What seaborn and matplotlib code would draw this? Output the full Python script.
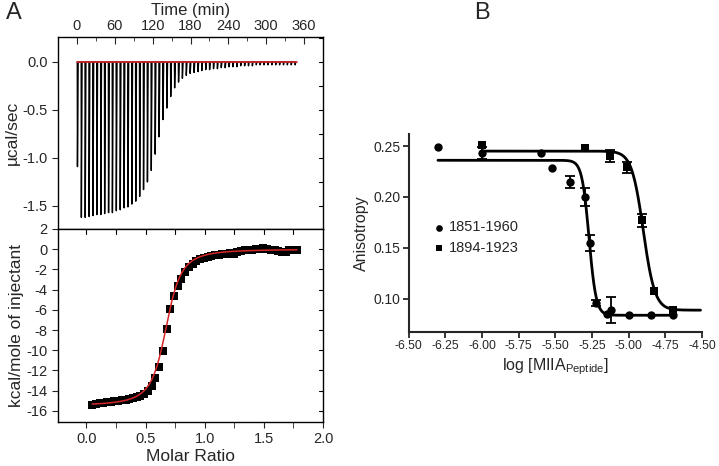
import numpy as np
import pandas as pd
import matplotlib
matplotlib.use("Agg")
import matplotlib.pyplot as plt
from matplotlib.ticker import MultipleLocator
import seaborn as sns

sns.set_style("ticks")
plt.rcParams["font.family"] = ["Liberation Sans", "DejaVu Sans"]
plt.rcParams["mathtext.fontset"] = "custom"
plt.rcParams["mathtext.rm"] = "Liberation Sans"
plt.rcParams["mathtext.it"] = "Liberation Sans:italic"
plt.rcParams["axes.unicode_minus"] = False

# --- Panel A, raw ITC thermogram (injection time in min, peak depth in ucal/sec)
inj_time = [0.5, 6.7, 12.8, 19.0, 25.1, 31.3, 37.5, 43.6, 49.8, 55.9,
            62.1, 68.3, 74.4, 80.6, 86.7, 92.9, 99.1, 105.2, 111.4, 117.5,
            123.7, 129.9, 136.0, 142.2, 148.3, 154.5, 160.7, 166.8, 173.0, 179.1,
            185.3, 191.5, 197.6, 203.8, 209.9, 216.1, 222.3, 228.4, 234.6, 240.7,
            246.9, 253.1, 259.2, 265.4, 271.5, 277.7, 283.9, 290.0, 296.2, 302.3,
            308.5, 314.7, 320.8, 327.0, 333.1, 339.3, 345.5]
peak_depth = [-1.09, -1.62, -1.62, -1.61, -1.60, -1.59, -1.59, -1.58, -1.57, -1.57,
              -1.55, -1.54, -1.52, -1.51, -1.48, -1.45, -1.40, -1.33, -1.25, -1.13,
              -0.96, -0.78, -0.60, -0.48, -0.36, -0.27, -0.21, -0.17, -0.14, -0.12,
              -0.11, -0.10, -0.09, -0.08, -0.08, -0.07, -0.07, -0.06, -0.06, -0.05,
              -0.05, -0.05, -0.04, -0.04, -0.04, -0.04, -0.03, -0.03, -0.03, -0.03,
              -0.03, -0.03, -0.03, -0.03, -0.03, -0.03, -0.03]

# --- Panel A, integrated heats (kcal/mole of injectant)
molar_ratio = [0.048, 0.079, 0.111, 0.142, 0.174, 0.205, 0.237, 0.268, 0.300, 0.331,
               0.363, 0.394, 0.426, 0.457, 0.489, 0.520, 0.552, 0.583, 0.614, 0.646,
               0.677, 0.709, 0.740, 0.772, 0.803, 0.835, 0.866, 0.898, 0.929, 0.961,
               0.992, 1.024, 1.055, 1.087, 1.118, 1.150, 1.181, 1.212, 1.244, 1.275,
               1.307, 1.338, 1.370, 1.401, 1.433, 1.464, 1.496, 1.527, 1.559, 1.590,
               1.622, 1.653, 1.685, 1.716, 1.748, 1.779]
heat = [-15.4, -15.3, -15.2, -15.2, -15.1, -15.1, -15.0, -15.0, -14.9, -14.9,
        -14.8, -14.7, -14.6, -14.5, -14.3, -14.0, -13.5, -12.7, -11.7, -10.1,
        -7.9, -5.9, -4.6, -3.6, -2.9, -2.3, -1.8, -1.5, -1.2, -1.0,
        -0.9, -0.8, -0.7, -0.6, -0.6, -0.5, -0.5, -0.4, -0.5, -0.3,
        -0.2, -0.1, -0.1, -0.1, 0.0, 0.0, 0.1, 0.0, -0.1, -0.1,
        -0.2, -0.3, -0.3, -0.1, -0.1, -0.1]
# one-site fit: stoichiometry n, enthalpy dH, r = 1/(n K Mt)
fit_n, fit_dH, fit_r = 0.68, -15.5, 0.01

# --- Panel B, fluorescence anisotropy
logc_1851 = [-6.30, -6.00, -5.60, -5.52, -5.40, -5.30, -5.26, -5.22, -5.15, -5.12, -5.00, -4.85, -4.70]
aniso_1851 = [0.249, 0.243, 0.243, 0.228, 0.215, 0.200, 0.155, 0.096, 0.085, 0.089, 0.084, 0.084, 0.084]
err_1851 = [0.0, 0.006, 0.0, 0.0, 0.006, 0.009, 0.008, 0.003, 0.0, 0.013, 0.0, 0.0, 0.0]
logc_1894 = [-6.00, -5.30, -5.13, -5.01, -4.91, -4.83, -4.70]
aniso_1894 = [0.251, 0.248, 0.240, 0.229, 0.177, 0.108, 0.089]
err_1894 = [0.0, 0.0, 0.006, 0.005, 0.006, 0.0, 0.0]
# 4PL fits: top, bottom, logIC50, hill slope
fit_1851 = (0.236, 0.084, -5.27, 18.0)
fit_1894 = (0.245, 0.089, -4.90, 11.0)

fig = plt.figure(figsize=(7.19, 4.66), dpi=100)
ax_raw = fig.add_axes([0.0807, 0.5086, 0.3686, 0.412])
ax_int = fig.add_axes([0.0807, 0.0944, 0.3686, 0.4142])
ax_b = fig.add_axes([0.5683, 0.2876, 0.408, 0.4249])

# raw thermogram, each injection as a sharp spike off the baseline
trace_t, trace_y = [], []
for t, d in zip(inj_time, peak_depth):
    trace_t += [t, t + 0.3, t + 1.4]
    trace_y += [0.0, d, 0.0]
raw = pd.DataFrame({"t": trace_t, "y": trace_y})
sns.lineplot(data=raw, x="t", y="y", sort=False, estimator=None, color="black", lw=1.0, ax=ax_raw)
ax_raw.plot([inj_time[0], inj_time[-1] + 4], [0, 0], color="#d62728", lw=1.2)
ax_raw.set_xlim(-30, 390)
ax_raw.set_ylim(-1.74, 0.26)
ax_raw.xaxis.tick_top()
ax_raw.xaxis.set_label_position("top")
ax_raw.xaxis.set_major_locator(MultipleLocator(60))
ax_raw.xaxis.set_minor_locator(MultipleLocator(30))
ax_raw.yaxis.set_major_locator(MultipleLocator(0.5))
ax_raw.yaxis.set_minor_locator(MultipleLocator(0.25))
ax_raw.yaxis.set_major_formatter(matplotlib.ticker.FormatStrFormatter("%.1f"))
ax_raw.set_xlabel("Time (min)", fontsize=12, labelpad=3)
ax_raw.set_ylabel("µcal/sec", fontsize=12.5, labelpad=2)
ax_raw.tick_params(axis="x", which="both", direction="in", top=True, bottom=False, labelsize=10.5, pad=3)
ax_raw.tick_params(axis="x", which="major", length=5)
ax_raw.tick_params(axis="x", which="minor", length=3)
ax_raw.tick_params(axis="y", which="major", direction="out", length=4, labelsize=10.5, right=False)
ax_raw.tick_params(axis="y", which="minor", left=False)
for v in np.arange(0.25, -1.75, -0.25):
    ax_raw.plot([1.0, 0.985], [v, v], transform=ax_raw.get_yaxis_transform(), color="black", lw=0.8, clip_on=False)

# integrated heats with fit
pts = pd.DataFrame({"ratio": molar_ratio, "heat": heat})
sns.scatterplot(data=pts, x="ratio", y="heat", marker="s", s=28, color="black", edgecolor="black", linewidth=0, ax=ax_int)
xr = np.linspace(molar_ratio[0], molar_ratio[-1], 300)
Xr = xr / fit_n
fit_y = fit_dH * (0.5 + (1 - Xr - fit_r) / (2 * np.sqrt((1 + Xr + fit_r) ** 2 - 4 * Xr)))
sns.lineplot(x=xr, y=fit_y, color="#d62728", lw=1.1, ax=ax_int)
ax_int.set_xlim(-0.24, 2.0)
ax_int.set_ylim(-17.1, 2.0)
ax_int.xaxis.set_major_locator(MultipleLocator(0.5))
ax_int.xaxis.set_minor_locator(MultipleLocator(0.25))
ax_int.xaxis.set_major_formatter(matplotlib.ticker.FormatStrFormatter("%.1f"))
ax_int.yaxis.set_major_locator(MultipleLocator(2))
ax_int.set_xlabel("Molar Ratio", fontsize=12.5, labelpad=2)
ax_int.set_ylabel("kcal/mole of injectant", fontsize=12.5, labelpad=2)
ax_int.tick_params(axis="both", which="major", direction="out", length=4, labelsize=10.5)
ax_int.tick_params(axis="x", which="minor", direction="out", length=4)
for v in np.arange(0.0, 1.8, 0.25):
    ax_int.plot([v, v], [1.0, 0.975], transform=ax_int.get_xaxis_transform(), color="black", lw=0.8, clip_on=False)
for v in np.arange(0, -17, -2):
    ax_int.plot([1.0, 0.985], [v, v], transform=ax_int.get_yaxis_transform(), color="black", lw=0.8, clip_on=False)

for ax in (ax_raw, ax_int):
    for s in ax.spines.values():
        s.set_linewidth(1.0)
        s.set_color("black")

# panel B
xc = np.linspace(logc_1851[0], logc_1851[-1], 400)
top, bot, ic, h = fit_1851
sns.lineplot(x=xc, y=bot + (top - bot) / (1 + 10 ** ((xc - ic) * h)), color="black", lw=2.0, ax=ax_b)
xs = np.linspace(logc_1894[0], -4.51, 400)
top, bot, ic, h = fit_1894
sns.lineplot(x=xs, y=bot + (top - bot) / (1 + 10 ** ((xs - ic) * h)), color="black", lw=2.0, ax=ax_b)

for lx, ly, le in ((logc_1851, aniso_1851, err_1851), (logc_1894, aniso_1894, err_1894)):
    keep = [i for i, e in enumerate(le) if e > 0]
    ax_b.errorbar([lx[i] for i in keep], [ly[i] for i in keep], yerr=[le[i] for i in keep],
                  fmt="none", ecolor="black", elinewidth=1.3, capsize=3.5, capthick=1.3)

sns.scatterplot(x=logc_1851, y=aniso_1851, marker="o", s=36, color="black", edgecolor="black",
                linewidth=0, label="1851-1960", ax=ax_b)
sns.scatterplot(x=logc_1894, y=aniso_1894, marker="s", s=32, color="black", edgecolor="black",
                linewidth=0, label="1894-1923", ax=ax_b)

ax_b.set_xlim(-6.5, -4.5)
ax_b.set_ylim(0.0676, 0.2618)
ax_b.xaxis.set_major_locator(MultipleLocator(0.25))
ax_b.xaxis.set_major_formatter(matplotlib.ticker.FormatStrFormatter("%.2f"))
ax_b.yaxis.set_major_locator(MultipleLocator(0.05))
ax_b.yaxis.set_major_formatter(matplotlib.ticker.FormatStrFormatter("%.2f"))
ax_b.tick_params(axis="both", direction="out", length=4, width=1.3, pad=2)
ax_b.tick_params(axis="x", labelsize=8.8)
ax_b.tick_params(axis="y", labelsize=10)
sns.despine(ax=ax_b)
for s in ("left", "bottom"):
    ax_b.spines[s].set_linewidth(1.5)
ax_b.set_ylabel("Anisotropy", fontsize=11.5, labelpad=3)
ax_b.set_xlabel(r"log [MIIA$_{\mathrm{Peptide}}$]", fontsize=11.5, labelpad=3)
ax_b.legend(loc="upper left", bbox_to_anchor=(0.045, 0.63), frameon=False, fontsize=10.5,
            handlelength=0.6, handletextpad=0.35, labelspacing=0.45, markerscale=0.8)

fig.text(0.008, 0.96, "A", fontsize=17)
fig.text(0.66, 0.96, "B", fontsize=17)

fig.savefig("out.png", dpi=100)
